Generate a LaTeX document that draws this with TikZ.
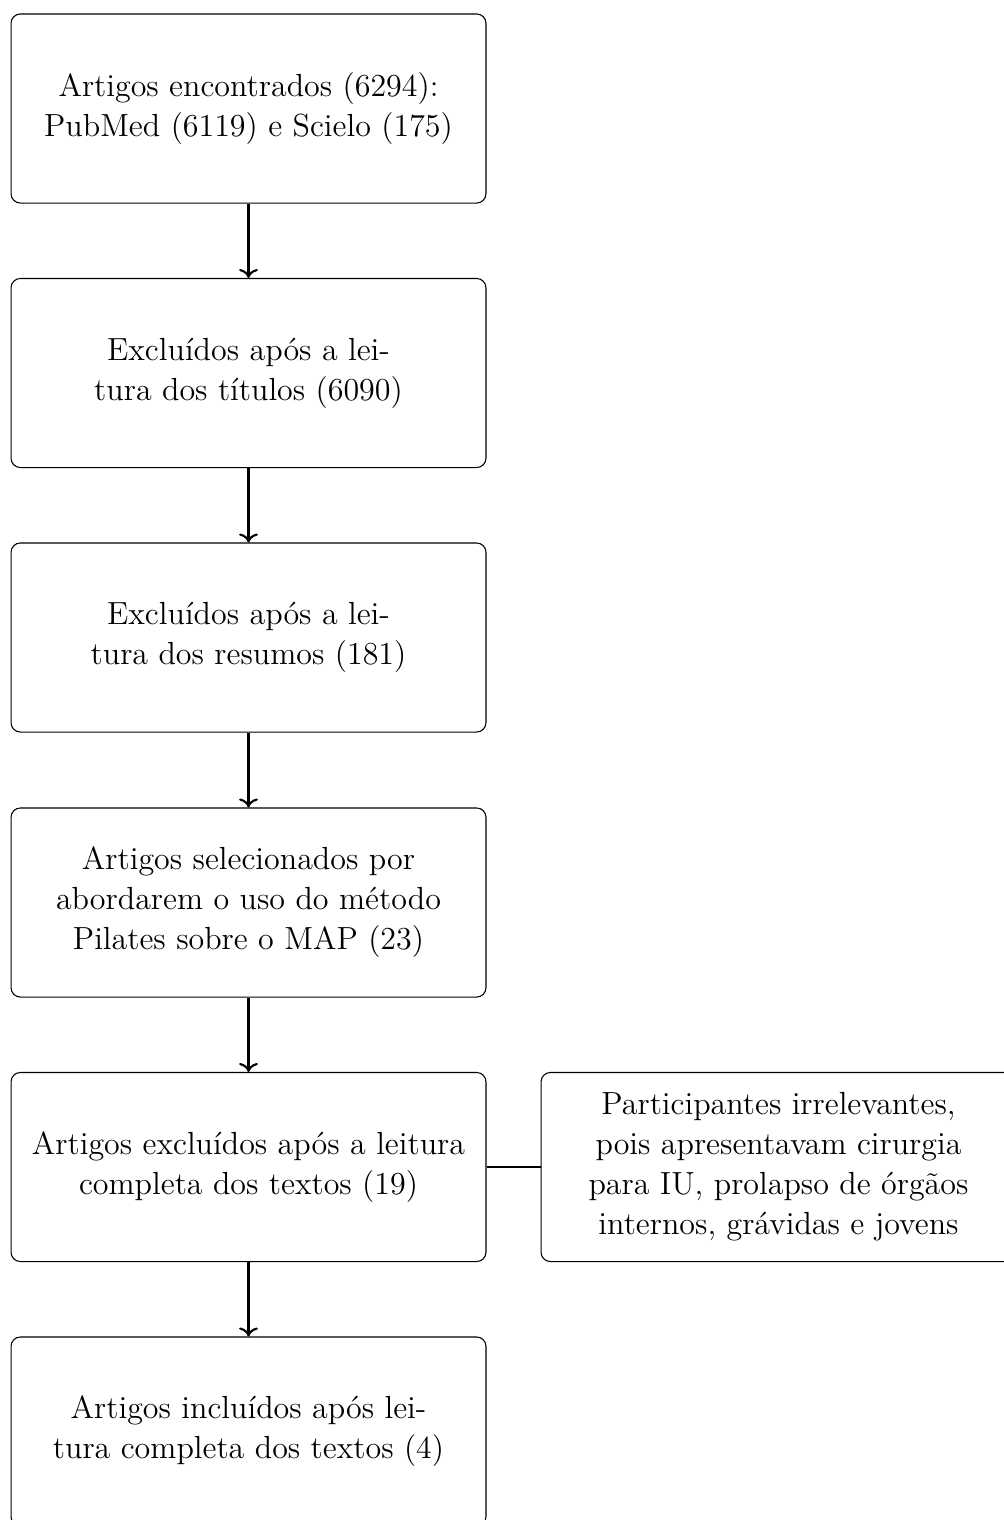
\documentclass[tikz,border=0pt]{standalone}
\usetikzlibrary{arrows.meta}
\begin{document}
\begin{tikzpicture}[x=0.375pt, y=-0.375pt,
  box/.style={draw, rounded corners=3.5pt, minimum width=178.1pt, minimum height=70.9pt, align=center, inner sep=0pt, font=\fontsize{12}{15}\selectfont},
  conn/.style={->, thick},
  link/.style={thick}]
\useasboundingbox (0,0) rectangle (1003,1520);
\node[box] (b1) at (248.5,108.5) {Artigos encontrados (6294):\\PubMed (6119) e Scielo (175)};
\node[box] (b2) at (248.5,373) {Excluídos após a lei-\\tura dos títulos (6090)};
\node[box] (b3) at (248.5,637.5) {Excluídos após a lei-\\tura dos resumos (181)};
\node[box] (b4) at (248.5,902.5) {Artigos selecionados por\\abordarem o uso do método\\Pilates sobre o MAP (23)};
\node[box] (b5) at (248.5,1167) {Artigos excluídos após a leitura\\completa dos textos (19)};
\node[box] (b6) at (248.5,1431.5) {Artigos incluídos após lei-\\tura completa dos textos (4)};
\node[box] (r5) at (778.5,1167) {Participantes irrelevantes,\\pois apresentavam cirurgia\\para IU, prolapso de órgãos\\internos, grávidas e jovens};
\draw[conn] (b1) -- (b2);
\draw[conn] (b2) -- (b3);
\draw[conn] (b3) -- (b4);
\draw[conn] (b4) -- (b5);
\draw[conn] (b5) -- (b6);
\draw[link] (b5) -- (r5);
\end{tikzpicture}
\end{document}
